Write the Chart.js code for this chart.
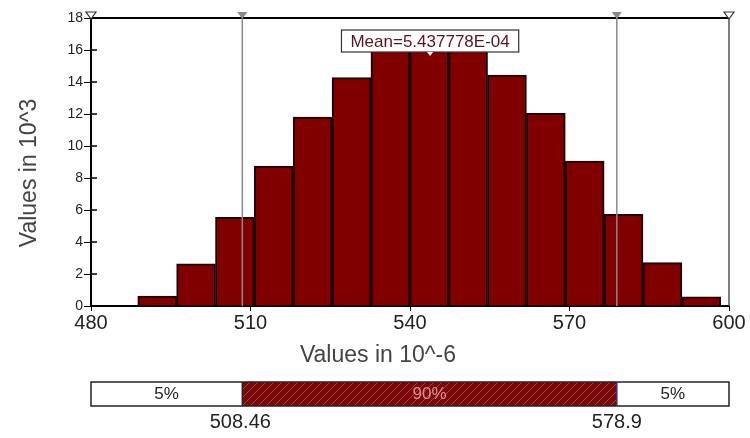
<!DOCTYPE html>
<html lang="en">
<head>
<meta charset="UTF-8">
<title>Values histogram</title>
<script src="https://cdn.jsdelivr.net/npm/chart.js"></script>
<style>
  body { margin: 0; background: #fff; }
  #wrap { width: 750px; height: 438px; }
</style>
</head>
<body>
<div id="wrap"><canvas id="histChart"></canvas></div>
<script>
  // bin centres (values in 10^-6) and bar heights (values in 10^3)
  const binCenters = [492.45, 499.76, 507.07, 514.38, 521.69, 529.00, 536.31, 543.62, 550.93, 558.24, 565.55, 572.86, 580.17, 587.48, 594.79];
  const binCounts = [0.62, 2.64, 5.54, 8.75, 11.8, 14.27, 16.0, 16.3, 16.1, 14.44, 12.04, 9.06, 5.73, 2.71, 0.58];
  const xTicks = [480, 510, 540, 570, 600];
  const yTicks = [0, 2, 4, 6, 8, 10, 12, 14, 16, 18];
  const meanValue = 543.7778;
  const meanText = 'Mean=5.437778E-04';
  const cutValues = [508.46, 578.9];
  const cutLabels = ['508.46', '578.9'];
  const bandLabels = ['5%', '90%', '5%'];

  const FONT = '"Liberation Sans", Arial, sans-serif';
  const MAROON = '#800000';

  // hatch pattern for the 90% band
  function makeHatch() {
    const c = document.createElement('canvas');
    c.width = 8; c.height = 8;
    const g = c.getContext('2d');
    g.fillStyle = '#7a0a0a';
    g.fillRect(0, 0, 8, 8);
    g.strokeStyle = '#b04040';
    g.lineWidth = 1;
    g.beginPath();
    g.moveTo(0, 8); g.lineTo(8, 0);
    g.moveTo(-4, 4); g.lineTo(4, -4);
    g.moveTo(4, 12); g.lineTo(12, 4);
    g.stroke();
    return g.createPattern(c, 'repeat');
  }

  function tri(ctx, x, yTop, filled) {
    ctx.beginPath();
    ctx.moveTo(x - 5, yTop);
    ctx.lineTo(x + 5, yTop);
    ctx.lineTo(x, yTop + 7);
    ctx.closePath();
    if (filled) { ctx.fillStyle = '#8a8a8a'; ctx.fill(); }
    else { ctx.fillStyle = '#fff'; ctx.fill(); ctx.strokeStyle = '#333'; ctx.lineWidth = 1.2; ctx.stroke(); }
  }

  const extras = {
    id: 'extras',
    afterDatasetsDraw(chart) {
      const { ctx, chartArea: a, scales: { x, y } } = chart;
      ctx.save();

      // top border and right edge
      ctx.strokeStyle = '#000';
      ctx.lineWidth = 2;
      ctx.beginPath(); ctx.moveTo(a.left, a.top); ctx.lineTo(a.right, a.top); ctx.stroke();
      ctx.strokeStyle = '#555';
      ctx.lineWidth = 1.5;
      ctx.beginPath(); ctx.moveTo(a.right, a.top); ctx.lineTo(a.right, a.bottom); ctx.stroke();

      // y ticks also poke a little into the plot
      ctx.strokeStyle = '#000';
      ctx.lineWidth = 1.5;
      yTicks.slice(1, -1).forEach(v => {
        const py = y.getPixelForValue(v);
        ctx.beginPath(); ctx.moveTo(a.left, py); ctx.lineTo(a.left + 6, py); ctx.stroke();
      });

      // percentile lines
      ctx.strokeStyle = '#8a8a8a';
      ctx.lineWidth = 1.5;
      cutValues.forEach(v => {
        const px = x.getPixelForValue(v);
        ctx.beginPath(); ctx.moveTo(px, a.top); ctx.lineTo(px, a.bottom); ctx.stroke();
        tri(ctx, px, a.top - 6, true);
      });
      tri(ctx, x.getPixelForValue(x.min), a.top - 6, false);
      tri(ctx, x.getPixelForValue(x.max), a.top - 6, false);

      // mean label
      const mx = x.getPixelForValue(meanValue);
      ctx.font = '17px ' + FONT;
      const tw = ctx.measureText(meanText).width;
      const bw = tw + 18, bh = 22, by = a.top + 12;
      ctx.fillStyle = '#fff';
      ctx.fillRect(mx - bw / 2, by, bw, bh);
      ctx.strokeStyle = '#333';
      ctx.lineWidth = 1.2;
      ctx.strokeRect(mx - bw / 2, by, bw, bh);
      ctx.fillStyle = '#5a1420';
      ctx.textAlign = 'center';
      ctx.textBaseline = 'middle';
      ctx.fillText(meanText, mx, by + bh / 2 + 1);
      ctx.fillStyle = '#fff';
      ctx.beginPath();
      ctx.moveTo(mx - 3, by + bh); ctx.lineTo(mx + 3, by + bh); ctx.lineTo(mx, by + bh + 4);
      ctx.closePath(); ctx.fill();

      // axis titles
      ctx.fillStyle = '#444';
      ctx.font = '23px ' + FONT;
      ctx.fillText('Values in 10^-6', 378, 356);
      ctx.save();
      ctx.translate(30, 173);
      ctx.rotate(-Math.PI / 2);
      ctx.fillText('Values in 10^3', 0, 0);
      ctx.restore();

      // percentile band under the chart
      const x0 = x.getPixelForValue(x.min), x3 = x.getPixelForValue(x.max);
      const x1 = x.getPixelForValue(cutValues[0]), x2 = x.getPixelForValue(cutValues[1]);
      const top = 382, h = 24;
      ctx.fillStyle = '#fff';
      ctx.fillRect(x0, top, x3 - x0, h);
      ctx.fillStyle = makeHatch();
      ctx.fillRect(x1, top, x2 - x1, h);
      ctx.strokeStyle = '#222';
      ctx.lineWidth = 1.5;
      ctx.strokeRect(x0, top, x3 - x0, h);
      ctx.beginPath(); ctx.moveTo(x1, top); ctx.lineTo(x1, top + h); ctx.stroke();
      ctx.strokeStyle = '#223a8a';
      ctx.beginPath(); ctx.moveTo(x2, top); ctx.lineTo(x2, top + h); ctx.stroke();

      ctx.font = '17px ' + FONT;
      ctx.fillStyle = '#222';
      ctx.fillText(bandLabels[0], (x0 + x1) / 2, top + h / 2);
      ctx.fillText(bandLabels[2], (x2 + x3) / 2, top + h / 2);
      ctx.fillStyle = '#d89090';
      ctx.fillText(bandLabels[1], (x1 + x2) / 2, top + h / 2);

      ctx.font = '20px ' + FONT;
      ctx.fillStyle = '#222';
      ctx.fillText(cutLabels[0], x1 - 2, top + h + 16);
      ctx.fillText(cutLabels[1], x2, top + h + 16);

      ctx.restore();
    }
  };

  const histChart = new Chart(document.getElementById('histChart'), {
    type: 'bar',
    data: {
      datasets: [{
        data: binCenters.map((c, i) => ({ x: c, y: binCounts[i] })),
        backgroundColor: MAROON,
        borderColor: '#1a0000',
        borderWidth: 2,
        barPercentage: 1,
        categoryPercentage: 1
      }]
    },
    options: {
      responsive: true,
      maintainAspectRatio: false,
      animation: false,
      layout: { padding: { left: 0, right: 21, top: 18, bottom: 0 } },
      plugins: { legend: { display: false }, tooltip: { enabled: false } },
      scales: {
        x: {
          type: 'linear',
          min: 480,
          max: 600,
          offset: false,
          afterFit: s => { s.height = 132; },
          afterBuildTicks: s => { s.ticks = xTicks.map(v => ({ value: v })); },
          grid: { display: true, drawOnChartArea: false, offset: false, tickLength: 5, color: '#000' },
          border: { display: true, color: '#000', width: 2 },
          ticks: { color: '#222', font: { family: FONT, size: 20 }, padding: 0, maxRotation: 0 }
        },
        y: {
          min: 0,
          max: 18,
          afterFit: s => { s.width = 91; },
          afterBuildTicks: s => { s.ticks = yTicks.map(v => ({ value: v })); },
          grid: { display: true, drawOnChartArea: false, tickLength: 7, color: '#000' },
          border: { display: true, color: '#000', width: 2 },
          ticks: { color: '#222', font: { family: FONT, size: 14 }, padding: 1 }
        }
      }
    },
    plugins: [extras]
  });
</script>
</body>
</html>
